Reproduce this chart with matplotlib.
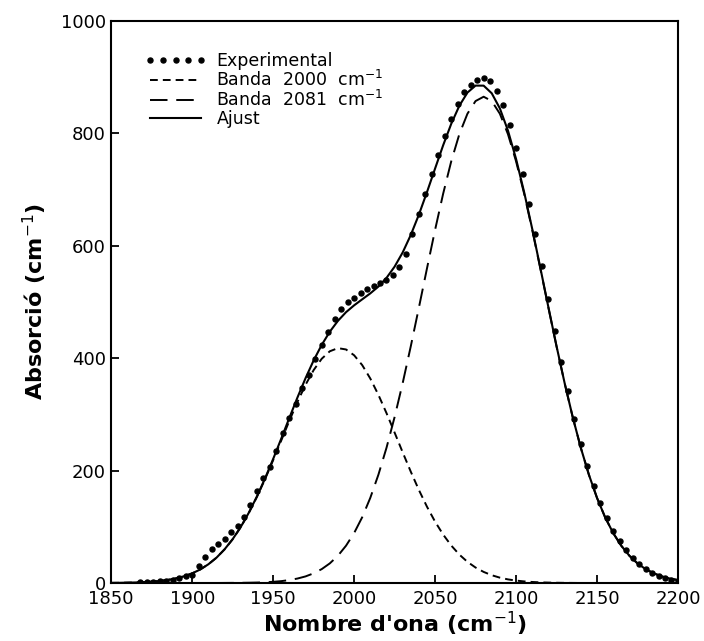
import matplotlib
matplotlib.use("Agg")
import matplotlib.pyplot as plt

# wavenumber grids (cm-1)
wn_fit = list(range(1850, 2205, 5))
wn_exp = list(range(1868, 2204, 4))

# experimental absorption (every 4 cm-1 from 1868)
experimental = [1, 2, 2, 3, 4, 6, 9, 12, 15, 30, 47, 60, 70, 78, 90, 102,
                118, 138, 163, 186, 207, 235, 266, 293, 318, 346, 370, 398,
                424, 446, 470, 488, 500, 507, 516, 523, 529, 533, 539, 547,
                562, 585, 620, 656, 692, 728, 762, 796, 826, 852, 873, 886,
                895, 898, 893, 876, 850, 815, 774, 727, 675, 620, 563, 506,
                449, 393, 341, 292, 248, 208, 173, 142, 116, 93, 74, 58,
                45, 34, 25, 18, 13, 9, 6, 4]

# band centred near 2000 cm-1 (every 5 cm-1 from 1850)
banda_2000 = [0.2, 0.3, 0.6, 0.9, 1.5, 2.3, 3.6, 5.5, 8.2, 11.9, 17.1, 24.1,
              33.3, 45.0, 59.8, 77.8, 99.4, 124.7, 153.3, 184.8, 218.5,
              253.5, 288.5, 322.0, 352.6, 378.7, 398.9, 412.2, 417.8, 415.4,
              405.1, 387.6, 363.7, 334.7, 302.2, 267.6, 232.4, 198.0, 165.5,
              135.7, 109.1, 86.1, 66.6, 50.5, 37.6, 27.5, 19.7, 13.8, 9.5,
              6.4, 4.3, 2.8, 1.8, 1.1, 0.7, 0.4, 0.2, 0.1, 0, 0, 0, 0, 0,
              0, 0, 0, 0, 0, 0, 0, 0]

# band centred near 2081 cm-1
banda_2081 = [0, 0, 0, 0, 0, 0, 0, 0, 0, 0, 0, 0, 0, 0, 0.1, 0.2, 0.3, 0.5,
              0.8, 1.3, 2.1, 3.3, 5.2, 7.9, 11.7, 17.2, 24.7, 34.9, 48.5,
              66.3, 88.8, 117.0, 151.5, 192.6, 240.5, 295.1, 355.6, 421.1,
              489.7, 559.6, 628.1, 692.6, 750.3, 798.5, 834.8, 857.3, 865.0,
              857.3, 834.8, 798.5, 750.3, 692.6, 628.1, 559.6, 489.7, 421.1,
              355.6, 295.1, 240.5, 192.6, 151.5, 117.0, 88.8, 66.3, 48.5,
              34.9, 24.7, 17.2, 11.7, 7.9, 5.2]

# total fit
ajust = [0.2, 0.3, 0.6, 0.9, 1.5, 2.3, 3.6, 5.5, 8.2, 11.9, 17.1, 24.1,
         33.3, 45.0, 59.9, 78.0, 99.7, 125.2, 154.1, 186.1, 220.6, 256.8,
         293.7, 329.9, 364.3, 395.9, 423.6, 447.1, 466.3, 481.7, 493.9,
         504.6, 515.2, 527.3, 542.7, 562.7, 588.0, 619.1, 655.2, 695.3,
         737.2, 778.7, 816.9, 849.0, 872.4, 884.8, 884.7, 871.1, 844.3,
         804.9, 754.6, 695.4, 629.9, 560.7, 490.4, 421.5, 355.8, 295.2,
         240.6, 192.6, 151.5, 117.0, 88.8, 66.3, 48.5, 34.9, 24.7, 17.2,
         11.7, 7.9, 5.2]

fig = plt.figure(figsize=(7.04, 6.41), dpi=100)
ax = fig.add_axes([0.158, 0.0905, 0.805, 0.877])

ax.plot(wn_exp, experimental, linestyle="none", marker="o", markersize=3.6,
        color="black", label="Experimental")
ax.plot(wn_fit, banda_2000, color="black", lw=1.4, dashes=(4, 2.6),
        label=r"Banda  2000  cm$^{-1}$")
ax.plot(wn_fit, banda_2081, color="black", lw=1.4, dashes=(9, 4.5),
        label=r"Banda  2081  cm$^{-1}$")
ax.plot(wn_fit, ajust, color="black", lw=1.5, label="Ajust")

ax.set_xlim(1850, 2200)
ax.set_ylim(0, 1000)
ax.set_xticks([1850, 1900, 1950, 2000, 2050, 2100, 2150, 2200])
ax.set_yticks([0, 200, 400, 600, 800, 1000])
ax.tick_params(direction="in", length=6, width=1.3, labelsize=13, pad=4,
               top=False, right=False)
ax.tick_params(axis="x", pad=5)
for s in ax.spines.values():
    s.set_linewidth(1.5)

ax.set_xlabel(r"Nombre d'ona (cm$^{-1}$)", fontsize=16, fontweight="bold",
              labelpad=1)
ax.set_ylabel(r"Absorció (cm$^{-1}$)", fontsize=16, fontweight="bold",
              labelpad=8)

ax.legend(loc="upper left", bbox_to_anchor=(0.06, 0.945), frameon=False,
          fontsize=12.5, numpoints=5, handlelength=3.5, handletextpad=0.6,
          labelspacing=0.0, borderpad=0, borderaxespad=0)

fig.savefig("out.png", dpi=100)
